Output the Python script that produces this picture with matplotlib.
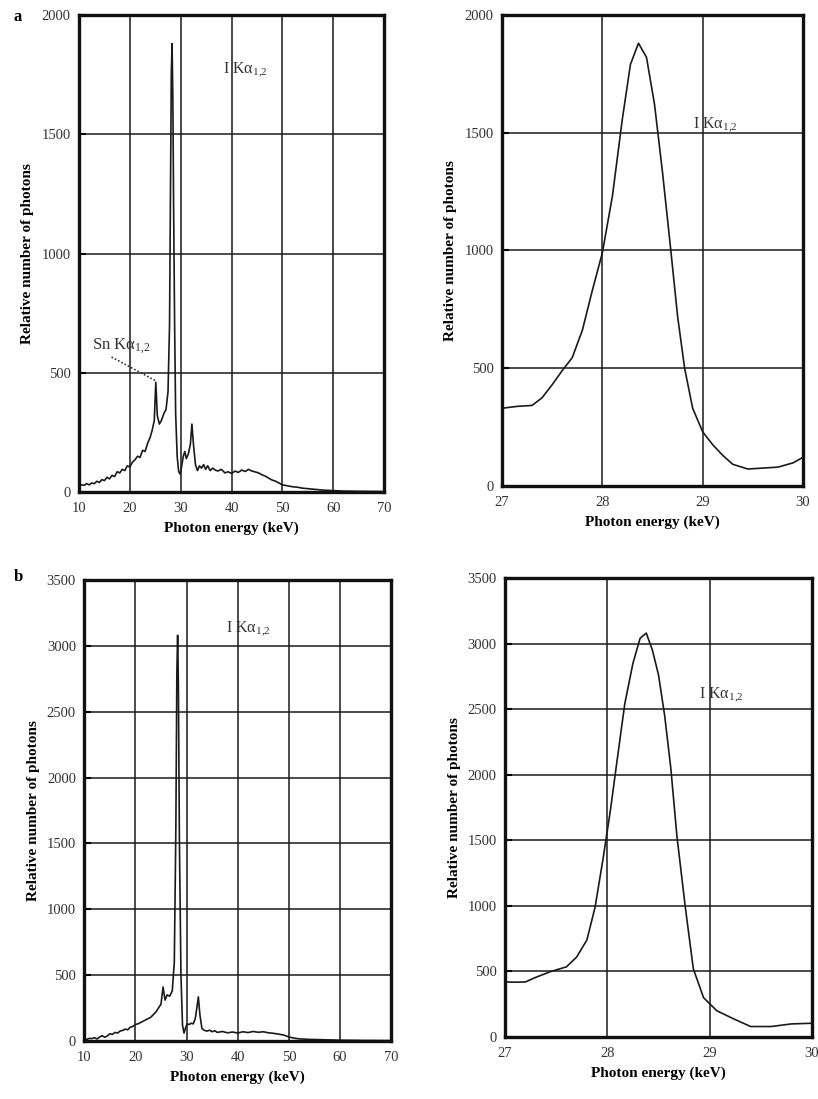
import matplotlib
matplotlib.use("Agg")
import matplotlib.pyplot as plt
import numpy as np

plt.rcParams['font.family'] = ['Liberation Serif', 'DejaVu Serif']
plt.rcParams['mathtext.fontset'] = 'custom'
plt.rcParams['mathtext.rm'] = 'Liberation Serif'
plt.rcParams['mathtext.it'] = 'Liberation Serif:italic'

# ---------------- data ----------------
# panel a, full spectrum (keV, relative photons)
a_full_e = [10, 10.5, 11, 11.5, 12, 12.5, 13, 13.5, 14, 14.5, 15, 15.5, 16, 16.5, 17, 17.5, 18, 18.5,
            19, 19.5, 20, 20.5, 21, 21.5, 22, 22.5, 23, 23.5, 24, 24.4, 24.8, 25.1, 25.4, 25.8, 26.2,
            26.7, 27.1, 27.5, 27.8, 28.0, 28.15, 28.3, 28.45, 28.6, 28.8, 29.0, 29.3, 29.6, 29.9,
            30.2, 30.5, 30.8, 31.1, 31.5, 31.9, 32.2, 32.5, 32.9, 33.3, 33.7, 34.1, 34.5, 34.9, 35.3,
            35.8, 36.3, 36.8, 37.3, 38, 38.7, 39.3, 40, 40.7, 41.3, 42, 42.7, 43.3, 44, 44.7, 45.3,
            46, 46.7, 47.3, 48, 48.7, 49.3, 50, 51, 52, 53, 54, 55, 56, 57, 58, 60, 62, 65, 70]
a_full_v = [32, 30, 28, 35, 30, 38, 35, 45, 40, 52, 48, 62, 55, 70, 65, 85, 80, 95,
            90, 110, 105, 125, 135, 150, 145, 175, 170, 205, 230, 260, 300, 460, 320, 285, 300,
            330, 345, 420, 700, 1300, 1760, 1880, 1650, 1200, 700, 330, 150, 85, 75,
            110, 150, 170, 140, 160, 200, 285, 200, 115, 90, 110, 100, 115, 95, 110,
            90, 100, 92, 88, 95, 80, 85, 78, 88, 82, 92, 86, 95, 88, 84, 80,
            72, 66, 58, 50, 45, 38, 30, 26, 22, 20, 16, 14, 12, 10, 8, 6, 4, 3, 2]

# panel a, zoom on I K-alpha
a_zoom_e = [27.0, 27.15, 27.3, 27.4, 27.5, 27.6, 27.7, 27.8, 27.9, 28.0, 28.1, 28.2, 28.28, 28.36,
            28.44, 28.52, 28.6, 28.68, 28.75, 28.82, 28.9, 29.0, 29.1, 29.2, 29.3, 29.45, 29.6,
            29.75, 29.9, 30.0]
a_zoom_v = [330, 338, 342, 375, 430, 490, 545, 660, 830, 990, 1230, 1560, 1790, 1880,
            1820, 1620, 1330, 1010, 720, 500, 330, 230, 175, 130, 92, 72, 76,
            80, 98, 122]

# panel b, full spectrum
b_full_e = [10, 10.5, 11, 11.5, 12, 12.5, 13, 13.5, 14, 14.5, 15, 15.5, 16, 16.5, 17, 17.5, 18, 18.5,
            19, 19.5, 20, 20.5, 21, 21.5, 22, 22.5, 23, 23.5, 24, 24.5, 25.0, 25.4, 25.8, 26.2,
            26.7, 27.2, 27.6, 27.9, 28.1, 28.25, 28.4, 28.6, 28.9, 29.2, 29.5, 29.8, 30.1, 30.5,
            30.9, 31.3, 31.7, 32.0, 32.3, 32.6, 33.0, 33.5, 34, 34.5, 35, 35.5, 36, 37, 38, 39, 40,
            41, 42, 43, 44, 45, 46, 47, 48, 49, 50, 51, 52, 54, 56, 58, 60, 65, 70]
b_full_v = [15, 12, 20, 18, 25, 15, 30, 40, 28, 38, 55, 50, 65, 60, 75, 80, 90, 85,
            105, 110, 125, 130, 140, 150, 160, 170, 180, 200, 220, 250, 280, 410, 310, 350,
            340, 380, 600, 1600, 2800, 3080, 2700, 1500, 500, 120, 60, 100, 130, 125,
            135, 130, 170, 250, 335, 200, 95, 80, 75, 82, 70, 78, 65, 72, 62, 68, 60,
            70, 64, 72, 66, 70, 62, 58, 52, 45, 30, 22, 16, 12, 10, 8, 6, 4, 3]

# panel b, zoom on I K-alpha
b_zoom_e = [27.0, 27.1, 27.2, 27.3, 27.45, 27.6, 27.7, 27.8, 27.88, 27.96, 28.03, 28.09, 28.17,
            28.25, 28.32, 28.38, 28.44, 28.5, 28.56, 28.62, 28.68, 28.76, 28.84, 28.94, 29.07,
            29.23, 29.4, 29.6, 29.8, 30.0]
b_zoom_v = [420, 418, 420, 455, 500, 535, 610, 740, 990, 1370, 1730, 2080, 2540,
            2850, 3040, 3080, 2950, 2760, 2450, 2050, 1530, 1000, 520, 300, 200,
            140, 80, 80, 100, 105]

# axis settings
a_full_yticks = [0, 500, 1000, 1500, 2000]
b_full_yticks = [0, 500, 1000, 1500, 2000, 2500, 3000, 3500]
full_xticks = [10, 20, 30, 40, 50, 60, 70]
zoom_xticks = [27, 28, 29, 30]

label_txt = r'I Kα$_{1{,}2}$'
sn_txt = r'Sn Kα$_{1{,}2}$'

# ---------------- figure ----------------
fig = plt.figure(figsize=(8.18, 10.99), dpi=100)

ax_tl = fig.add_axes([0.0966, 0.5523, 0.373, 0.434])
ax_tr = fig.add_axes([0.6137, 0.5578, 0.368, 0.4286])
ax_bl = fig.add_axes([0.1030, 0.0528, 0.3753, 0.4195])
ax_br = fig.add_axes([0.6174, 0.0564, 0.3753, 0.4177])


def style(ax, xt, yt, xlim, ylim):
    ax.set_xlim(*xlim)
    ax.set_ylim(*ylim)
    ax.set_xticks(xt)
    ax.set_yticks(yt)
    ax.grid(True, color='#1a1a1a', linewidth=1.1)
    ax.set_axisbelow(True)
    for s in ax.spines.values():
        s.set_linewidth(2.4)
        s.set_color('#111111')
    ax.tick_params(axis='y', direction='in', length=5, width=1.5, labelsize=10.5,
                   labelcolor='#333333', pad=6)
    ax.tick_params(axis='x', direction='in', length=0, labelsize=10.5,
                   labelcolor='#333333', pad=7)
    ax.set_xlabel('Photon energy (keV)', fontweight='bold', fontsize=11, labelpad=5)
    ax.set_ylabel('Relative number of photons', fontweight='bold', fontsize=11, labelpad=5)


style(ax_tl, full_xticks, a_full_yticks, (10, 70), (0, 2000))
style(ax_tr, zoom_xticks, a_full_yticks, (27, 30), (0, 2000))
style(ax_bl, full_xticks, b_full_yticks, (10, 70), (0, 3500))
style(ax_br, zoom_xticks, b_full_yticks, (27, 30), (0, 3500))

lc = '#1a1a1a'
ax_tl.plot(a_full_e, a_full_v, color=lc, linewidth=1.2)
ax_tr.plot(a_zoom_e, a_zoom_v, color=lc, linewidth=1.2)
ax_bl.plot(b_full_e, b_full_v, color=lc, linewidth=1.2)
ax_br.plot(b_zoom_e, b_zoom_v, color=lc, linewidth=1.2)

ax_tl.text(38.3, 1770, label_txt, fontsize=11.5, color='#333333', va='center')
ax_tr.text(28.9, 1535, label_txt, fontsize=11.5, color='#333333', va='center')
ax_bl.text(37.8, 3130, label_txt, fontsize=11.5, color='#333333', va='center')
ax_br.text(28.9, 2610, label_txt, fontsize=11.5, color='#333333', va='center')

ax_tl.text(12.5, 610, sn_txt, fontsize=12, color='#333333', va='center')
ax_tl.plot([16.4, 25.2], [566, 465], linestyle=(0, (1, 1.2)), color='#333333', linewidth=1.2)

fig.text(0.017, 0.981, 'a', fontweight='bold', fontsize=12)
fig.text(0.017, 0.471, 'b', fontweight='bold', fontsize=12)

fig.savefig('out.png', dpi=100)
